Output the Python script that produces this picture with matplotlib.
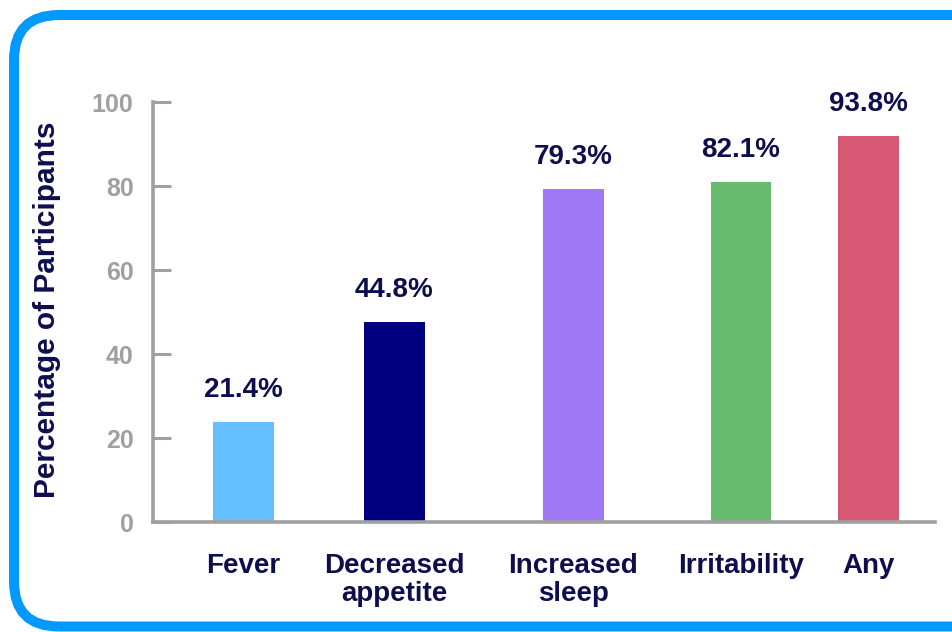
import matplotlib
matplotlib.use("Agg")
import matplotlib.pyplot as plt
from matplotlib.patches import FancyBboxPatch

# ---- data ----
categories = ["Fever", "Decreased\nappetite", "Increased\nsleep", "Irritability", "Any"]
bar_values = [23.8, 47.6, 79.3, 81.0, 91.9]          # heights as drawn
value_labels = ["21.4%", "44.8%", "79.3%", "82.1%", "93.8%"]
bar_colors = ["#66BFFF", "#000080", "#A078F5", "#66BB6E", "#D75873"]
y_ticks = [0, 20, 40, 60, 80, 100]

# layout (category positions, irregular as in the original slide)
positions = [0.0, 0.966, 2.112, 3.184, 4.0]

plt.rcParams['font.family'] = ['Liberation Sans', 'DejaVu Sans']
navy = "#0E0E4E"
gray = "#A0A0A0"

fig = plt.figure(figsize=(9.53, 6.32), dpi=100)
fig.patch.set_facecolor("white")

ax = fig.add_axes([153/953, (632-522)/632, (935-153)/953, (522-102)/632])
ax.set_xlim(-0.579, 4.4256)
ax.set_ylim(0, 100)

bars = ax.bar(positions, bar_values, width=0.39, color=bar_colors, zorder=2)

for b, lab in zip(bars, value_labels):
    ax.annotate(lab, (b.get_x() + b.get_width()/2, b.get_height()),
                xytext=(0, 23), textcoords="offset points",
                ha="center", va="center", fontsize=20, fontweight="bold",
                color=navy)

ax.set_yticks(y_ticks)
ax.set_yticklabels([str(t) for t in y_ticks], fontsize=18, fontweight="bold", color=gray)
ax.tick_params(axis="y", direction="in", length=13, width=2.2, color=gray, pad=14)

ax.set_xticks(positions)
ax.set_xticklabels(categories, fontsize=20, fontweight="bold", color=navy, linespacing=1.12)
ax.tick_params(axis="x", length=0, pad=22)

for s in ["top", "right"]:
    ax.spines[s].set_visible(False)
for s in ["left", "bottom"]:
    ax.spines[s].set_color(gray)
    ax.spines[s].set_linewidth(2.6)

fig.text(47/953, 1 - 310/632, "Percentage of Participants", rotation=90,
         ha="center", va="center", fontsize=21.5, fontweight="bold", color=navy)

# rounded frame
box = FancyBboxPatch((0.14, 0.055), 10.2 - 0.14, 6.17 - 0.055,
                     boxstyle="round,pad=0,rounding_size=0.45",
                     transform=fig.dpi_scale_trans, fill=False,
                     edgecolor="#0099FF", linewidth=7.2, zorder=10)
fig.patches.append(box)

fig.savefig("out.png", dpi=100, facecolor="white")
